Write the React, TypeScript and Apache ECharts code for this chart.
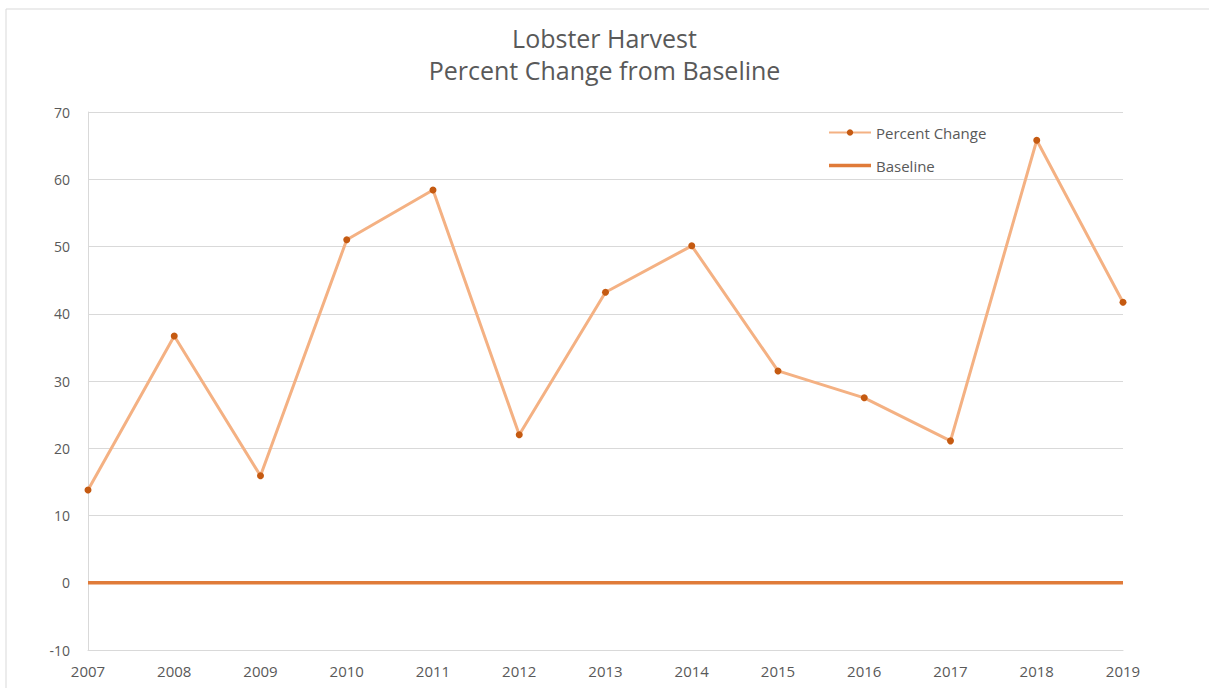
import React, { useEffect, useRef } from "react";
import * as echarts from "echarts";

const years = ["2007", "2008", "2009", "2010", "2011", "2012", "2013", "2014", "2015", "2016", "2017", "2018", "2019"];
const percentChange = [13.8, 36.7, 15.9, 51.0, 58.4, 22.0, 43.2, 50.1, 31.5, 27.5, 21.1, 65.8, 41.7];
const baseline = [0, 0, 0, 0, 0, 0, 0, 0, 0, 0, 0, 0, 0];
const titleLines = ["Lobster Harvest", "Percent Change from Baseline"];

const FONT = "'Open Sans', 'Noto Sans', sans-serif";
const TEXT = "#595959";

export default function App() {
  const ref = useRef<HTMLDivElement>(null);
  useEffect(() => {
    if (!ref.current) return;
    const chart = echarts.init(ref.current, undefined, { renderer: "svg" });
    chart.setOption({
      animation: false,
      backgroundColor: "#ffffff",
      textStyle: { fontFamily: FONT },
      title: {
        text: titleLines.join("\n"),
        left: "center",
        top: 17,
        textStyle: { fontFamily: FONT, fontSize: 25, fontWeight: "normal", color: TEXT, lineHeight: 32 },
      },
      graphic: [
        {
          type: "rect",
          shape: { x: 6, y: 9, width: 1215, height: 700 },
          style: { fill: "none", stroke: "#d9d9d9", lineWidth: 1 },
          silent: true,
        },
      ],
      legend: {
        orient: "vertical",
        left: 823,
        top: 120,
        itemWidth: 42,
        itemHeight: 8,
        itemGap: 18,
        textStyle: { fontFamily: FONT, fontSize: 15, color: TEXT },
        data: [
          { name: "Percent Change" },
          { name: "Baseline", icon: "path://M0,0 L42,0 L42,3.5 L0,3.5 Z" },
        ],
      },
      grid: { left: 88, right: 86, top: 112, bottom: 38, containLabel: false },
      xAxis: {
        type: "category",
        data: years,
        boundaryGap: false,
        axisLine: { onZero: false, lineStyle: { color: "#d9d9d9" } },
        axisTick: { show: false },
        axisLabel: { color: TEXT, fontFamily: FONT, fontSize: 15, margin: 13 },
      },
      yAxis: {
        type: "value",
        min: -10,
        max: 70,
        interval: 10,
        axisLine: { show: true, lineStyle: { color: "#d9d9d9" } },
        axisTick: { show: false },
        axisLabel: { color: TEXT, fontFamily: FONT, fontSize: 14, margin: 18 },
        splitLine: { lineStyle: { color: "#d9d9d9" } },
      },
      series: [
        {
          name: "Percent Change",
          type: "line",
          data: percentChange,
          symbol: "circle",
          symbolSize: 7,
          lineStyle: { color: "#F4B183", width: 3 },
          itemStyle: { color: "#C55A11" },
          z: 3,
        },
        {
          name: "Baseline",
          type: "line",
          data: baseline,
          symbol: "none",
          lineStyle: { color: "#E07B39", width: 3.5 },
          itemStyle: { color: "#E07B39" },
          z: 2,
        },
      ],
    });
    return () => chart.dispose();
  }, []);
  return <div ref={ref} style={{ position: "fixed", left: 0, top: 0, width: 1209, height: 688 }} />;
}
